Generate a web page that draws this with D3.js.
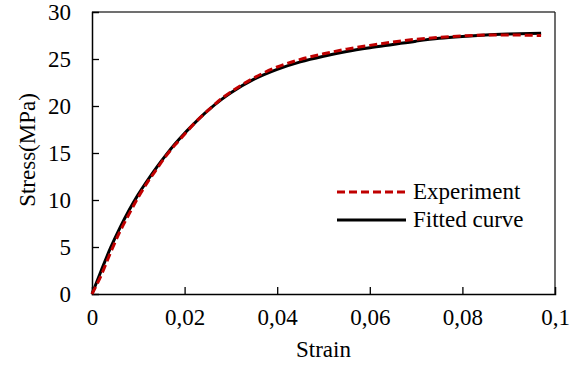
<!DOCTYPE html>
<html>
<head>
  <meta charset="UTF-8" />
  <title>Stress-strain</title>
  <script src="https://d3js.org/d3.v7.min.js"></script>
  <style>
    body { margin: 0; background: #fff; }
  </style>
</head>
<body>
<svg id="chart" width="580" height="367"></svg>
<script>
  // strain values
  const strain = [0, 0.002, 0.004, 0.006, 0.008, 0.010, 0.012, 0.014, 0.016, 0.018,
    0.020, 0.022, 0.025, 0.028, 0.030, 0.035, 0.040, 0.045, 0.050, 0.055,
    0.060, 0.065, 0.070, 0.075, 0.080, 0.085, 0.090, 0.097];
  const experiment = [0, 2.0, 4.4, 6.6, 8.5, 10.3, 11.9, 13.3, 14.7, 15.9,
    17.0, 18.1, 19.5, 20.8, 21.5, 23.0, 24.15, 24.95, 25.55, 26.05,
    26.45, 26.8, 27.1, 27.3, 27.45, 27.55, 27.55, 27.5];
  const fitted = [0, 2.5, 4.9, 7.0, 8.9, 10.6, 12.1, 13.5, 14.8, 16.0,
    17.1, 18.1, 19.5, 20.7, 21.4, 22.85, 23.9, 24.7, 25.3, 25.8,
    26.2, 26.55, 26.9, 27.2, 27.4, 27.55, 27.65, 27.75];
  const xTicks = [0, 0.02, 0.04, 0.06, 0.08, 0.1];
  const xTickLabels = ["0", "0,02", "0,04", "0,06", "0,08", "0,1"];
  const yTicks = [0, 5, 10, 15, 20, 25, 30];

  const FONT = "'Liberation Serif', 'Times New Roman', Times, 'DejaVu Serif', serif";
  const FSIZE = "23px";

  const svg = d3.select("#chart");
  const mLeft = 92, mRight = 555, mTop = 12, mBottom = 294;

  const x = d3.scaleLinear().domain([0, 0.1]).range([mLeft, mRight]);
  const y = d3.scaleLinear().domain([0, 30]).range([mBottom, mTop]);

  // frame (top and right)
  svg.append("line").attr("x1", mLeft).attr("x2", mRight).attr("y1", mTop).attr("y2", mTop)
    .attr("stroke", "#404040").attr("stroke-width", 1.3);
  svg.append("line").attr("x1", mRight).attr("x2", mRight).attr("y1", mTop).attr("y2", mBottom)
    .attr("stroke", "#202020").attr("stroke-width", 1.3);

  // axes with inward ticks
  const xAxis = d3.axisBottom(x).tickValues(xTicks).tickSize(-7).tickPadding(15)
    .tickFormat((d, i) => xTickLabels[i]);
  const gx = svg.append("g").attr("transform", `translate(0,${mBottom})`).call(xAxis);

  const yAxis = d3.axisLeft(y).tickValues(yTicks).tickSize(-7).tickPadding(21);
  const gy = svg.append("g").attr("transform", `translate(${mLeft},0)`).call(yAxis);

  [gx, gy].forEach(g => {
    g.attr("font-family", null).attr("font-size", null);
    g.selectAll(".domain").attr("stroke", "#000").attr("stroke-width", 1.5);
    g.selectAll(".tick line").attr("stroke", "#000").attr("stroke-width", 1.3);
    g.selectAll(".tick text").style("font-family", FONT).style("font-size", FSIZE)
      .attr("fill", "#000");
  });
  gx.selectAll(".tick").filter(d => d === 0 || d === 0.1).select("line").remove();
  gy.selectAll(".tick").filter(d => d === 0 || d === 30).select("line").remove();

  const line = d3.line().curve(d3.curveMonotoneX)
    .x((d, i) => x(strain[i])).y(d => y(d));

  svg.append("path").datum(fitted).attr("d", line)
    .attr("fill", "none").attr("stroke", "#000").attr("stroke-width", 3);
  svg.append("path").datum(experiment).attr("d", line)
    .attr("fill", "none").attr("stroke", "#c00000").attr("stroke-width", 3)
    .attr("stroke-dasharray", "8,4");

  // axis titles
  svg.append("text").attr("x", (mLeft + mRight) / 2).attr("y", 357)
    .attr("text-anchor", "middle").style("font-family", FONT).style("font-size", FSIZE)
    .text("Strain");
  svg.append("text").attr("transform", "translate(35,150) rotate(-90)")
    .attr("text-anchor", "middle").style("font-family", FONT).style("font-size", FSIZE)
    .text("Stress(MPa)");

  // legend
  const legend = [
    { label: "Experiment", color: "#c00000", dash: "8,4", yy: 192 },
    { label: "Fitted curve", color: "#000", dash: null, yy: 220 }
  ];
  legend.forEach(l => {
    svg.append("line").attr("x1", 337).attr("x2", 406).attr("y1", l.yy).attr("y2", l.yy)
      .attr("stroke", l.color).attr("stroke-width", 3)
      .attr("stroke-dasharray", l.dash);
    svg.append("text").attr("x", 413).attr("y", l.yy + 7)
      .style("font-family", FONT).style("font-size", FSIZE).text(l.label);
  });
</script>
</body>
</html>
